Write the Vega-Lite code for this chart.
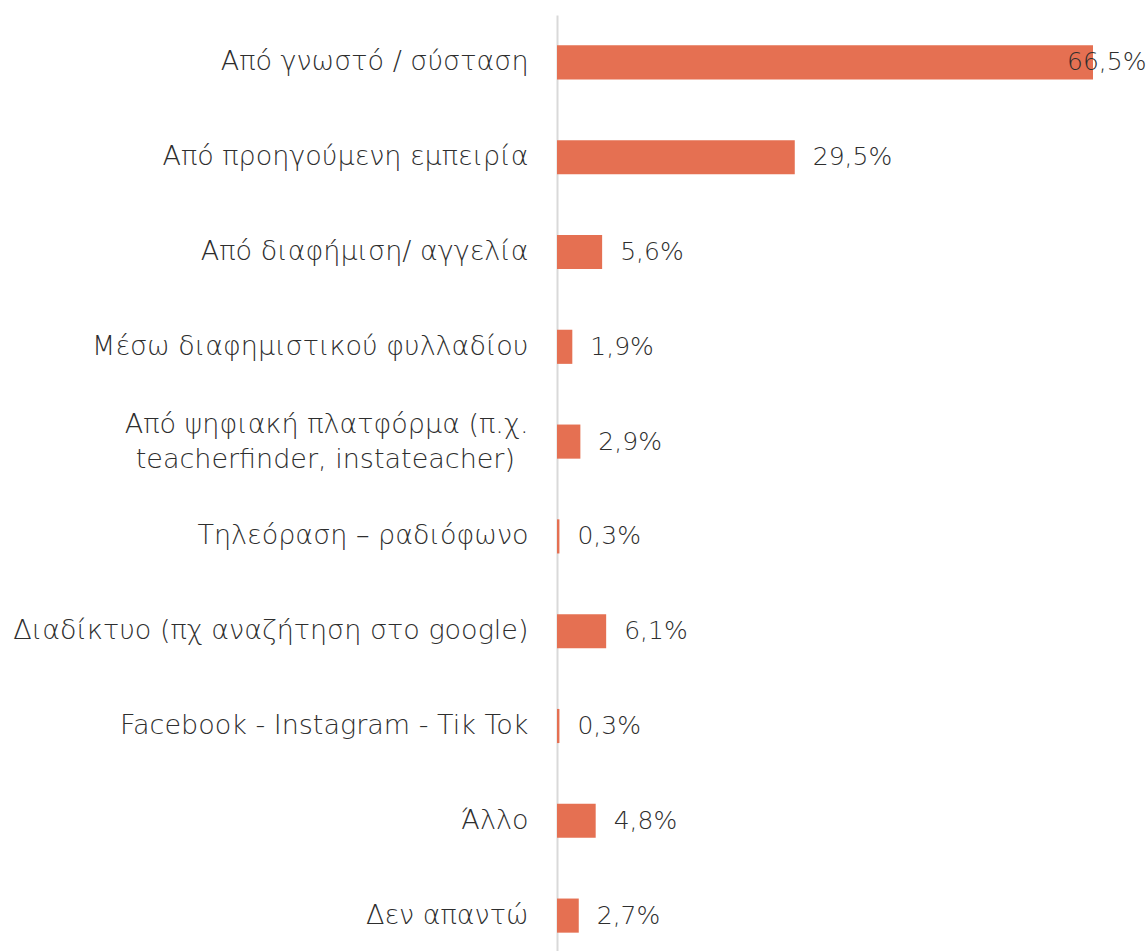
{
  "$schema": "https://vega.github.io/schema/vega-lite/v6.json",
  "autosize": "none",
  "padding": {"left": 557, "top": 15, "right": 0, "bottom": 0},
  "width": 590,
  "height": 948,
  "config": {
    "view": {"stroke": null},
    "font": "DejaVu Sans",
    "locale": {"number": {"decimal": ",", "thousands": ".", "grouping": [3], "currency": ["", "€"]}}
  },
  "data": {
    "values": [
      {"category": "Από γνωστό / σύσταση", "value": 0.665},
      {"category": "Από προηγούμενη εμπειρία", "value": 0.295},
      {"category": "Από διαφήμιση/ αγγελία", "value": 0.056},
      {"category": "Μέσω διαφημιστικού φυλλαδίου", "value": 0.019},
      {"category": "Από ψηφιακή πλατφόρμα (π.χ. teacherfinder, instateacher)", "value": 0.029},
      {"category": "Τηλεόραση – ραδιόφωνο", "value": 0.003},
      {"category": "Διαδίκτυο (πχ αναζήτηση στο google)", "value": 0.061},
      {"category": "Facebook - Instagram - Tik Tok", "value": 0.003},
      {"category": "Άλλο", "value": 0.048},
      {"category": "Δεν απαντώ", "value": 0.027}
    ]
  },
  "encoding": {
    "y": {
      "field": "category",
      "type": "nominal",
      "sort": null,
      "scale": {"paddingInner": 0.64, "paddingOuter": 0.32},
      "axis": {
        "title": null,
        "ticks": false,
        "domainColor": "#d9d9d9",
        "domainWidth": 2,
        "labelFontSize": 27,
        "labelFontWeight": 200,
        "labelColor": "#2e2e2e",
        "labelPadding": 29,
        "labelLimit": 700,
        "labelLineHeight": 35,
        "labelOffset": {"condition": {"test": "indexof(datum.value, 'teacherfinder') >= 0", "value": -17}, "value": 0},
        "labelExpr": "datum.value == 'Από ψηφιακή πλατφόρμα (π.χ. teacherfinder, instateacher)' ? ['Από ψηφιακή πλατφόρμα (π.χ.', 'teacherfinder, instateacher)\u2002\u200b'] : datum.value"
      }
    },
    "x": {
      "field": "value",
      "type": "quantitative",
      "scale": {"domain": [0, 0.732], "nice": false},
      "axis": null
    }
  },
  "layer": [
    {"mark": {"type": "bar", "color": "#E57052"}},
    {
      "transform": [{"filter": "datum.value < 0.6"}],
      "mark": {"type": "text", "align": "left", "baseline": "middle", "dx": 18, "fontSize": 25, "fontWeight": 200, "color": "#2e2e2e"},
      "encoding": {"text": {"field": "value", "type": "quantitative", "format": ".1%"}}
    },
    {
      "transform": [{"filter": "datum.value >= 0.6"}],
      "mark": {"type": "text", "align": "left", "baseline": "middle", "dx": -26, "fontSize": 25, "fontWeight": 200, "color": "#2e2e2e"},
      "encoding": {"text": {"field": "value", "type": "quantitative", "format": ".1%"}}
    }
  ]
}
